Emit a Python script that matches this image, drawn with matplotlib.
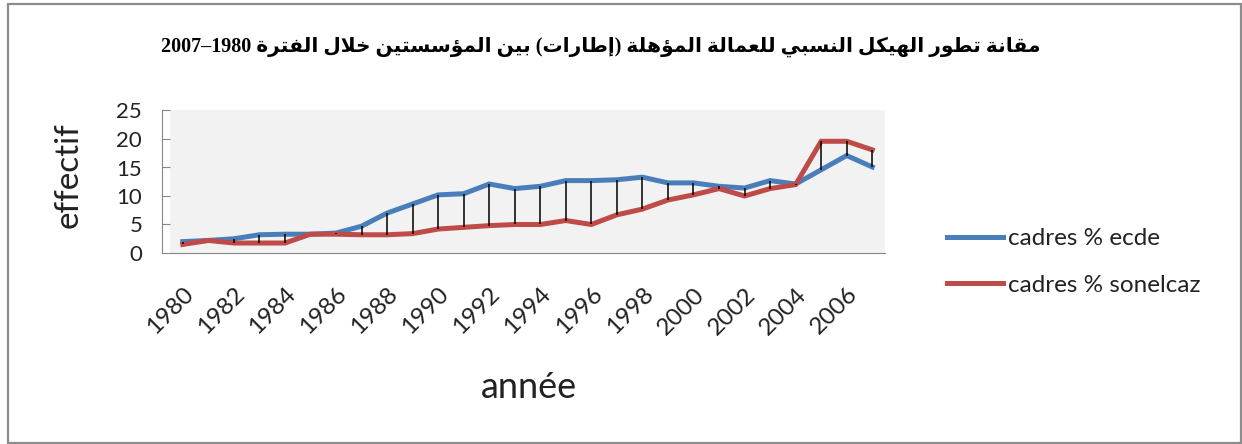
import matplotlib
matplotlib.use("Agg")
import matplotlib.pyplot as plt
from matplotlib.patches import Rectangle

years = list(range(1980, 2008))
ecde = [2.0, 2.2, 2.5, 3.2, 3.3, 3.3, 3.5, 4.7, 7.0, 8.6, 10.2, 10.4, 12.1, 11.3,
        11.7, 12.7, 12.7, 12.85, 13.3, 12.3, 12.3, 11.7, 11.4, 12.7, 12.1, 14.6, 17.1, 15.1]
sonelcaz = [1.5, 2.2, 1.75, 1.75, 1.75, 3.3, 3.3, 3.2, 3.2, 3.4, 4.2, 4.5, 4.8, 5.0,
            5.0, 5.7, 5.0, 6.7, 7.7, 9.3, 10.2, 11.3, 10.0, 11.3, 12.0, 19.6, 19.6, 18.1]
series_labels = ["cadres % ecde", "cadres % sonelcaz"]
xtick_years = list(range(1980, 2007, 2))
yticks = [0, 5, 10, 15, 20, 25]
title_words = ["مقانة", "تطور", "الهيكل", "النسبي", "للعمالة", "المؤهلة",
               "(إطارات)", "بين", "المؤسستين", "خلال", "الفترة"]
title_period = "1980–2007"

# --- minimal arabic shaping (matplotlib has no bidi / joining support) ---
_forms = {}
for ch, start, n in [("\u0622", 0xFE81, 2), ("\u0623", 0xFE83, 2), ("\u0624", 0xFE85, 2),
                     ("\u0625", 0xFE87, 2), ("\u0626", 0xFE89, 4), ("\u0627", 0xFE8D, 2),
                     ("\u0628", 0xFE8F, 4), ("\u0629", 0xFE93, 2), ("\u062A", 0xFE95, 4),
                     ("\u062B", 0xFE99, 4), ("\u062C", 0xFE9D, 4), ("\u062D", 0xFEA1, 4),
                     ("\u062E", 0xFEA5, 4), ("\u062F", 0xFEA9, 2), ("\u0630", 0xFEAB, 2),
                     ("\u0631", 0xFEAD, 2), ("\u0632", 0xFEAF, 2), ("\u0633", 0xFEB1, 4),
                     ("\u0634", 0xFEB5, 4), ("\u0635", 0xFEB9, 4), ("\u0636", 0xFEBD, 4),
                     ("\u0637", 0xFEC1, 4), ("\u0638", 0xFEC5, 4), ("\u0639", 0xFEC9, 4),
                     ("\u063A", 0xFECD, 4), ("\u0641", 0xFED1, 4), ("\u0642", 0xFED5, 4),
                     ("\u0643", 0xFED9, 4), ("\u0644", 0xFEDD, 4), ("\u0645", 0xFEE1, 4),
                     ("\u0646", 0xFEE5, 4), ("\u0647", 0xFEE9, 4), ("\u0648", 0xFEED, 2),
                     ("\u0649", 0xFEEF, 2), ("\u064A", 0xFEF1, 4)]:
    _forms[ch] = [chr(start + k) for k in range(n)]
_lam_alef = {"\u0627": (0xFEFB, 0xFEFC), "\u0623": (0xFEF7, 0xFEF8),
             "\u0625": (0xFEF9, 0xFEFA), "\u0622": (0xFEF5, 0xFEF6)}


def shape_word(word):
    out = []
    i = 0
    prev_joins = False
    while i < len(word):
        c = word[i]
        nxt = word[i + 1] if i + 1 < len(word) else ""
        if c not in _forms:
            out.append(c)
            prev_joins = False
            i += 1
            continue
        if c == "\u0644" and nxt in _lam_alef:
            iso, fin = _lam_alef[nxt]
            out.append(chr(fin if prev_joins else iso))
            prev_joins = False
            i += 2
            continue
        f = _forms[c]
        dual = len(f) == 4
        next_joins = dual and nxt in _forms
        if prev_joins and next_joins:
            out.append(f[3])
        elif prev_joins:
            out.append(f[1])
        elif next_joins:
            out.append(f[2])
        else:
            out.append(f[0])
        prev_joins = dual
        i += 1
    # reverse for right-to-left display, mirror brackets
    vis = "".join(reversed(out))
    return vis.translate(str.maketrans("()", ")("))


def rtl_title(words, period):
    a, b = period.split("–")
    return b + "–" + a + " " + " ".join(shape_word(w) for w in reversed(words))


fig = plt.figure(figsize=(12.42, 4.44), dpi=100)
fig.patches.append(Rectangle((8 / 1242, 1 / 444), 1233 / 1242, 439 / 444,
                             transform=fig.transFigure, fill=False,
                             edgecolor="#8c8c8c", linewidth=1.6))

ax = fig.add_axes([170 / 1242, 1 - 253 / 444, 715 / 1242, 142.5 / 444])
ax.set_facecolor("#f2f2f2")

blue = "#4a7ebb"
red = "#be4b48"
ax.plot(years, ecde, color=blue, lw=3.6, label=series_labels[0],
        solid_joinstyle="miter", zorder=3)
ax.plot(years, sonelcaz, color=red, lw=3.6, label=series_labels[1],
        solid_joinstyle="miter", zorder=3)
lo = [min(a, b) for a, b in zip(ecde, sonelcaz)]
hi = [max(a, b) for a, b in zip(ecde, sonelcaz)]
ax.vlines(years, lo, hi, color="black", lw=1.1, zorder=4)

ax.set_xlim(1979.5, 2007.5)
ax.set_ylim(0, 25)
ax.set_yticks(yticks)
ax.set_xticks(xtick_years)
for s in ["top", "right"]:
    ax.spines[s].set_visible(False)
for s in ["left", "bottom"]:
    ax.spines[s].set_color("#868686")
ax.spines["left"].set_position(("outward", 6))
ax.tick_params(axis="y", direction="in", length=6, color="#868686", pad=14,
               labelsize=16, labelcolor="#222222")
ax.tick_params(axis="x", length=0, pad=22, labelsize=17.5, labelcolor="#222222")
for lab in ax.get_yticklabels():
    lab.set_fontfamily("Lato")
for lab in ax.get_xticklabels():
    lab.set_fontfamily("Lato")
    lab.set_rotation(45)
    lab.set_rotation_mode("anchor")
    lab.set_ha("right")
    lab.set_va("top")

fig.text(69 / 1242, 1 - 175 / 444, "effectif", rotation=90, ha="center",
         va="center", fontsize=24, family="Lato", color="#222222")
fig.text(529 / 1242, 1 - 387 / 444, "année", ha="center", va="center",
         fontsize=26, family="Lato", color="#222222")
fig.text(601 / 1242, 1 - 47 / 444, rtl_title(title_words, title_period),
         ha="center", va="center", fontsize=14.5, fontweight="bold",
         family=["Liberation Serif", "DejaVu Sans"], color="black")

fig.legend(loc="center left", bbox_to_anchor=(935 / 1242, 1 - 262 / 444),
           frameon=False, prop={"family": "Lato", "size": 17.5},
           handlelength=2.3, handletextpad=0.2, labelspacing=1.05,
           borderpad=0, labelcolor="#222222")

fig.savefig("out.png", dpi=100)
